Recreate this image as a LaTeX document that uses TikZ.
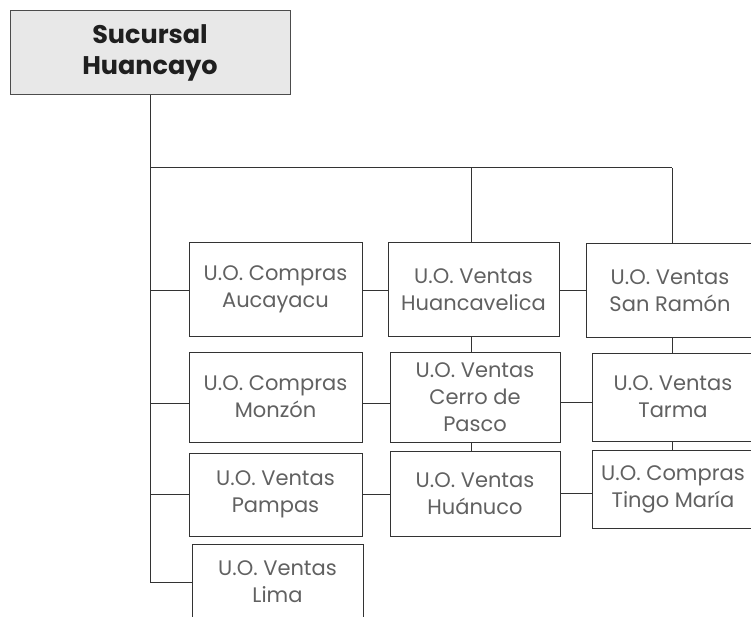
\documentclass[tikz,border=0pt]{standalone}
\usepackage{fontspec}
\setmainfont{Poppins}
\begin{document}
\begin{tikzpicture}[x=1pt,y=-1pt,
  ubox/.style={draw=black!80, line width=1pt, fill=white, align=center, inner sep=0pt,
    font=\fontsize{21}{27}\selectfont, text=black!62},
  topbox/.style={draw=black!70, line width=1pt, fill=black!9, align=center, inner sep=0pt,
    font=\fontsize{25.5}{31}\selectfont\bfseries, text=black!88},
  link/.style={draw=black!80, line width=1pt}]
\useasboundingbox (0,0) rectangle (751,617);
\fill[white] (0,0) rectangle (751,617);
\clip (0,0) rectangle (751,617);

\node[topbox, minimum width=280pt, minimum height=84pt] (top) at (150,53) {Sucursal\\Huancayo};

\node[ubox, minimum width=173pt, minimum height=93pt] (auc) at (275.5,289.5) {U.O. Compras\\Aucayacu};
\node[ubox, minimum width=173pt, minimum height=90pt] (mon) at (275.5,397) {U.O. Compras\\Monzón};
\node[ubox, minimum width=173pt, minimum height=83pt] (pam) at (275.5,494.5) {U.O. Ventas\\Pampas};
\node[ubox, minimum width=171pt, minimum height=76pt] (lim) at (277.5,582) {U.O. Ventas\\Lima};

\node[ubox, minimum width=171pt, minimum height=93pt] (huv) at (473.5,289.5) {U.O. Ventas\\Huancavelica};
\node[ubox, minimum width=170pt, minimum height=90pt] (cer) at (475,397) {U.O. Ventas\\Cerro de\\Pasco};
\node[ubox, minimum width=170pt, minimum height=85pt] (hua) at (475,493.5) {U.O. Ventas\\Huánuco};

\node[ubox, minimum width=168pt, minimum height=93pt] (sr) at (670,290.5) {U.O. Ventas\\San Ramón};
\node[ubox, minimum width=162pt, minimum height=88pt] (tar) at (673,397) {U.O. Ventas\\Tarma};
\node[ubox, minimum width=162pt, minimum height=78pt] (tin) at (673,489) {U.O. Compras\\Tingo María};

\coordinate (bus) at (151,168);
\coordinate (c2) at (471,0);
\coordinate (c3) at (672,0);
\coordinate (r1) at (0,290);
\coordinate (r2a) at (0,403);
\coordinate (r2b) at (0,402);
\coordinate (r3a) at (0,494);
\coordinate (r3b) at (0,493);

% trunk
\draw[link] (top.south) -- (top.south |- lim.west) -- (lim.west);
\draw[link] (top.south |- r1) -- (auc.west |- r1);
\draw[link] (top.south |- r2a) -- (mon.west |- r2a);
\draw[link] (top.south |- r3a) -- (pam.west |- r3a);
% bus
\draw[link] (top.south |- bus) -- (c3 |- bus);
\draw[link] (c2 |- huv.north) -- (c2 |- bus);
\draw[link] (c3 |- sr.north) -- (c3 |- bus);
% row connectors
\draw[link] (auc.east |- r1) -- (huv.west |- r1);
\draw[link] (mon.east |- r2a) -- (cer.west |- r2a);
\draw[link] (pam.east |- r3a) -- (hua.west |- r3a);
\draw[link] (huv.east |- r1) -- (sr.west |- r1);
\draw[link] (cer.east |- r2b) -- (tar.west |- r2b);
\draw[link] (hua.east |- r3b) -- (tin.west |- r3b);
% column connectors
\draw[link] (c2 |- huv.south) -- (c2 |- cer.north);
\draw[link] (c2 |- cer.south) -- (c2 |- hua.north);
\draw[link] (c3 |- sr.south) -- (c3 |- tar.north);
\draw[link] (c3 |- tar.south) -- (c3 |- tin.north);
\end{tikzpicture}
\end{document}
